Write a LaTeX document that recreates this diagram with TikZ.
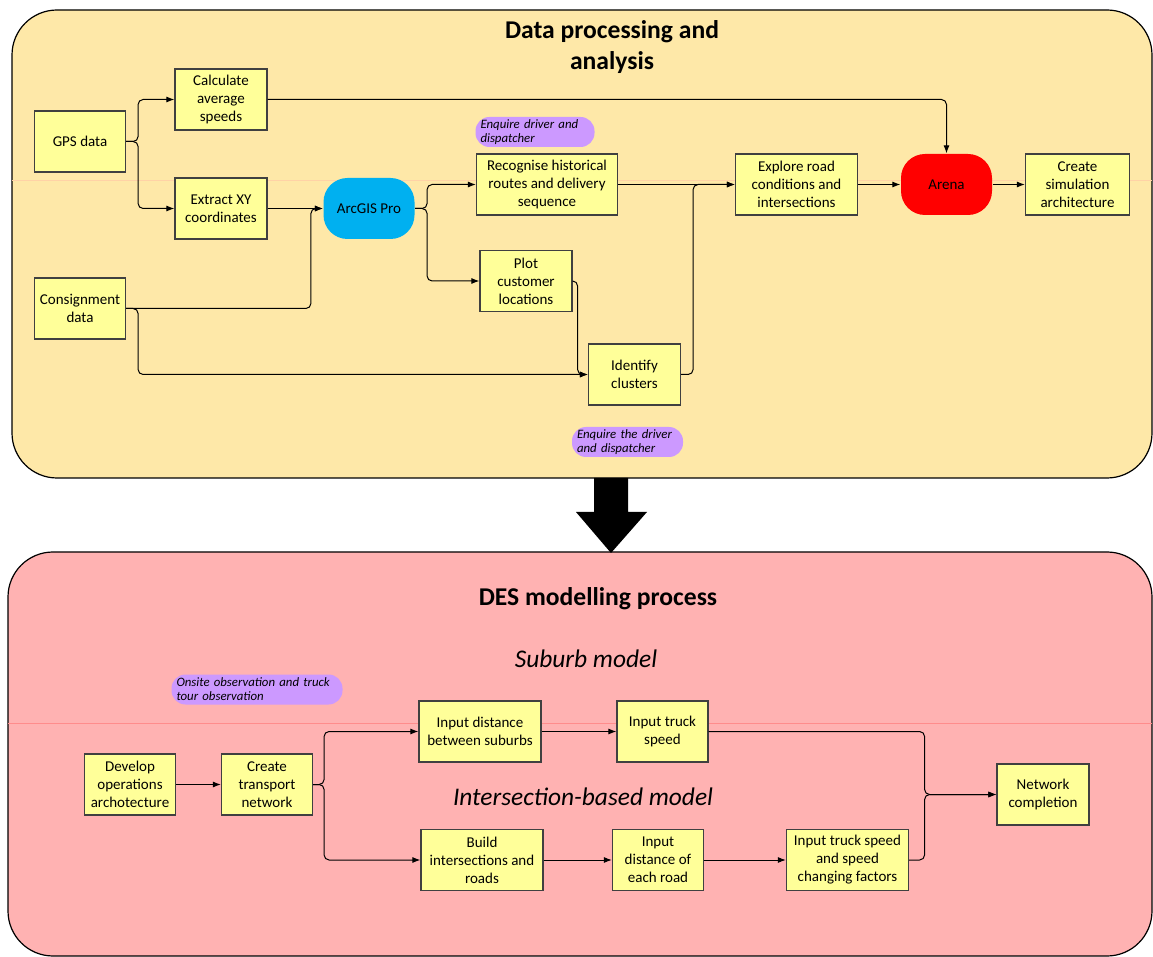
\documentclass[tikz,border=0pt]{standalone}
\usepackage{fontspec}
\setmainfont{Carlito}
\usetikzlibrary{arrows.meta}
\definecolor{panelyellow}{RGB}{254,232,168}
\definecolor{panelpink}{RGB}{255,178,178}
\definecolor{boxyellow}{RGB}{255,255,153}
\definecolor{notepurple}{RGB}{204,153,255}
\definecolor{arcblue}{RGB}{0,176,240}
\tikzset{
  procbox/.style={draw=black!75,fill=boxyellow,line width=0.6pt,minimum height=30.5pt,inner sep=1pt,align=center,font=\fontsize{7.5}{9}\selectfont},
  toolbox/.style={procbox,draw=none,rounded corners=12pt},
  notebox/.style={fill=notepurple,rounded corners=7pt,minimum height=15pt,inner xsep=2.5pt,inner ysep=0.5pt,align=left,font=\fontsize{6.4}{7}\selectfont\itshape},
  conn/.style={black,line width=0.5pt,rounded corners=2.5pt,-{Latex[length=4pt,width=3pt]}},
  paneltitle/.style={font=\fontsize{12.8}{15.5}\selectfont\bfseries,align=center},
  modeltitle/.style={font=\fontsize{12.7}{15}\selectfont\itshape},
}
\begin{document}
\begin{tikzpicture}[x=0.5pt,y=-0.5pt]
\useasboundingbox (0,0) rectangle (1153,957);
%% panels
 \draw [fill=panelyellow,line width=0.6pt,rounded corners=22.5pt] (12,10) rectangle (1152,478);
 \draw [orange!35,line width=0.4pt] (12,180) -- (1152,180);
 \draw [fill=panelpink,line width=0.6pt,rounded corners=22.5pt] (8,552) rectangle (1152,956);
 \draw [red!45,line width=0.4pt] (8,723) -- (1152,723);
 \fill [black] (594,478) -- (628,478) -- (628,512) -- (647,512) -- (611,553) -- (576,512) -- (594,512) -- cycle;
%%
 \node (title_top) at (612,47.5) [paneltitle] {Data processing and\\analysis};
 \node (title_des) at (598,599) [paneltitle] {DES modelling process};
 \node (title_sub) at (586,659) [modeltitle] {Suburb model};
 \node (title_int) at (583,797) [modeltitle] {Intersection-based model};
%% data processing
 \node (node_gps) at (80,141.5) [procbox,minimum width=45.5pt] {GPS data};
 \node (node_calc) at (221,99.5) [procbox,minimum width=46pt] {Calculate\\average\\speeds};
 \node (node_extr) at (221,208.5) [procbox,minimum width=46pt] {Extract XY\\coordinates};
 \node (node_arc) at (369,208.5) [toolbox,fill=arcblue,minimum width=45.5pt] {ArcGIS Pro};
 \node (node_cons) at (80,308.5) [procbox,minimum width=45.5pt] {Consignment\\data};
 \node (node_recog) at (547,184.5) [procbox,minimum width=70.5pt] {Recognise historical\\routes and delivery\\sequence};
 \node (node_plot) at (526,281) [procbox,minimum width=46pt] {Plot\\customer\\locations};
 \node (node_ident) at (634.5,374.5) [procbox,minimum width=46pt] {Identify\\clusters};
 \node (node_expl) at (796.5,184.5) [procbox,minimum width=61pt] {Explore road\\conditions and\\intersections};
 \node (node_arena) at (946.5,184.5) [toolbox,fill=red,minimum width=45.5pt] {Arena};
 \node (node_create) at (1077.5,184.5) [procbox,minimum width=52pt] {Create\\simulation\\architecture};
 \node (note_0) at (535,132) [notebox,text width=54.5pt] {Enquire driver and\\dispatcher};
 \node (note_1) at (627.5,442) [notebox,text width=50.5pt] {Enquire the driver\\and dispatcher};
%
  \draw [conn] (node_gps.east) -- ++(12,0) |- (node_calc.west);
  \draw [conn] (node_gps.east) -- ++(12,0) |- (node_extr.west);
  \draw [conn] (node_extr) -- (node_arc);
  \draw [conn] (node_cons.east) -| ([xshift=-6pt]node_arc.west) -- (node_arc.west);
  \draw [conn] (node_cons.east) -- ++(12,0) |- (node_ident.west);
  \draw [conn] (node_arc.east) -- ++(12,0) |- (node_recog.west);
  \draw [conn] (node_arc.east) -- ++(12,0) |- (node_plot.west);
  \draw [conn] (node_plot.east) -- ++(5,0) |- (node_ident.west);
  \draw [conn] (node_calc.east) -| (node_arena.north);
  \draw [conn] (node_recog) -- (node_expl);
  \draw [conn] (node_ident.east) -- ++(12,0) |- (node_expl.west);
  \draw [conn] (node_expl) -- (node_arena);
  \draw [conn] (node_arena) -- (node_create);
%% DES modelling
 \node (node_devel) at (130,784.5) [procbox,minimum width=45.5pt] {Develop\\operations\\archotecture};
 \node (node_net) at (267,784.5) [procbox,minimum width=45.5pt] {Create\\transport\\network};
 \node (node_sdist) at (480,731.5) [procbox,minimum width=61pt] {Input distance\\between suburbs};
 \node (node_truck) at (662.5,731.5) [procbox,minimum width=45.5pt] {Input truck\\speed};
 \node (node_build) at (482,860) [procbox,minimum width=61pt] {Build\\intersections and\\roads};
 \node (node_rdist) at (658,860) [procbox,minimum width=45.5pt] {Input\\distance of\\each road};
 \node (node_fact) at (847.5,860) [procbox,minimum width=61pt] {Input truck speed\\and speed\\changing factors};
 \node (node_netc) at (1043,794.5) [procbox,minimum width=46pt] {Network\\completion};
 \node (note_2) at (257,689.5) [notebox,text width=80.5pt] {Onsite observation and truck\\tour observation};
%
  \draw [conn] (node_devel) -- (node_net);
  \draw [conn] (node_net.east) -- ++(11,0) |- (node_sdist.west);
  \draw [conn] (node_net.east) -- ++(11,0) |- (node_build.west);
  \draw [conn] (node_sdist) -- (node_truck);
  \draw [conn] (node_build) -- (node_rdist);
  \draw [conn] (node_rdist) -- (node_fact);
  \draw [conn] (node_truck.east) -- ++(216,0) |- (node_netc.west);
  \draw [conn] (node_fact.east) -- ++(15.5,0) |- (node_netc.west);
%
\end{tikzpicture}
\end{document}
